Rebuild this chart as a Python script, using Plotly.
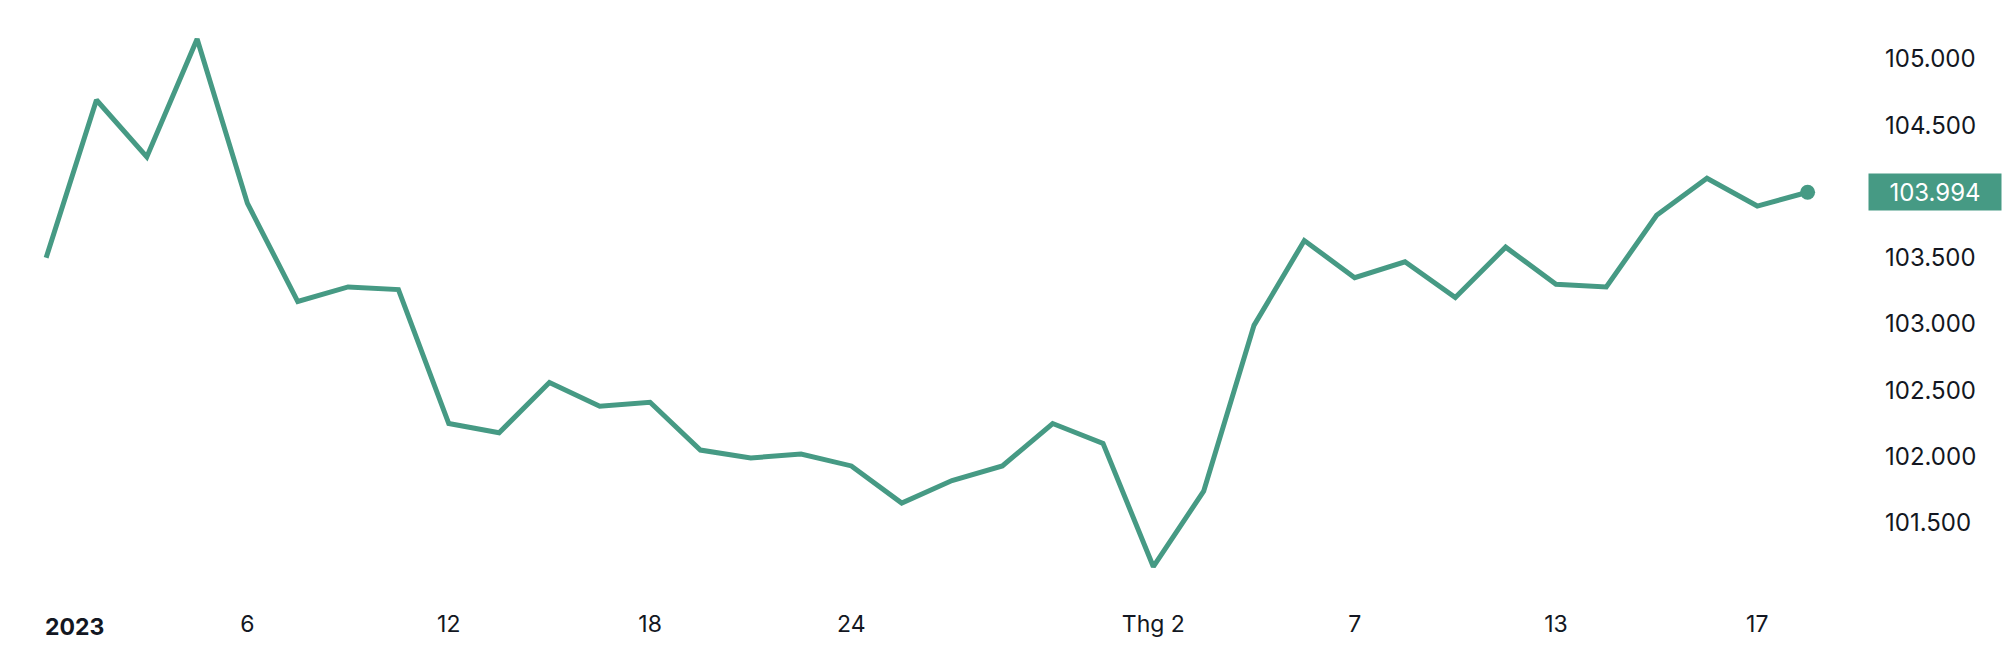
import plotly.graph_objects as go

# trading days (weekends skipped) and closing values
dates = [
    "2023-01-02", "2023-01-03", "2023-01-04", "2023-01-05", "2023-01-06",
    "2023-01-09", "2023-01-10", "2023-01-11", "2023-01-12", "2023-01-13",
    "2023-01-16", "2023-01-17", "2023-01-18", "2023-01-19", "2023-01-20",
    "2023-01-23", "2023-01-24", "2023-01-25", "2023-01-26", "2023-01-27",
    "2023-01-30", "2023-01-31", "2023-02-01", "2023-02-02", "2023-02-03",
    "2023-02-06", "2023-02-07", "2023-02-08", "2023-02-09", "2023-02-10",
    "2023-02-13", "2023-02-14", "2023-02-15", "2023-02-16", "2023-02-17",
    "2023-02-20",
]
values = [
    103.50, 104.69, 104.26, 105.15, 103.91,
    103.17, 103.28, 103.26, 102.25, 102.18,
    102.56, 102.38, 102.41, 102.05, 101.99,
    102.02, 101.93, 101.65, 101.82, 101.93,
    102.25, 102.10, 101.17, 101.74, 102.99,
    103.63, 103.35, 103.47, 103.20, 103.58,
    103.30, 103.28, 103.82, 104.10, 103.89,
    103.994,
]

x_tick_dates = ["2023-01-06", "2023-01-12", "2023-01-18", "2023-01-24",
                "2023-02-01", "2023-02-07", "2023-02-13", "2023-02-17"]
x_tick_text = ["6", "12", "18", "24", "Thg 2", "7", "13", "17"]
year_label = "2023"

# 104.000 is hidden behind the last value tag
y_ticks = [101.5, 102.0, 102.5, 103.0, 103.5, 104.5, 105.0]
y_tick_text = [f"{v:.3f}" for v in y_ticks]

GREEN = "#469a84"
TEXT = "#131722"
FONT = "Inter"

fig = go.Figure()
fig.add_trace(go.Scatter(
    x=dates, y=values, mode="lines",
    line=dict(color=GREEN, width=5),
    hoverinfo="skip",
))
fig.add_trace(go.Scatter(
    x=[dates[-1]], y=[values[-1]], mode="markers",
    marker=dict(color=GREEN, size=15),
    hoverinfo="skip",
))

# last value tag on the price scale
fig.add_annotation(
    x=1, xref="paper", y=values[-1], yref="y",
    xanchor="left", yanchor="middle",
    text=f"{values[-1]:.3f}", showarrow=False,
    font=dict(family=FONT, size=24, color="white"),
    bgcolor=GREEN, width=132, height=36, borderpad=0, align="center",
)
fig.add_shape(type="line", xref="paper", yref="y",
              x0=1, x1=1 + 8 / 1868, y0=values[-1], y1=values[-1],
              line=dict(color="white", width=2))

# year label, pushed right to stay inside the pane
fig.add_annotation(
    x=dates[0], xref="x", y=0, yref="paper",
    xanchor="left", yanchor="middle", xshift=-3, yshift=-27,
    text=f"<b>{year_label}</b>", showarrow=False,
    font=dict(family=FONT, size=23, color=TEXT),
)

fig.update_layout(
    width=2016, height=662,
    margin=dict(l=0, r=148, t=0, b=62),
    paper_bgcolor="white", plot_bgcolor="white",
    showlegend=False,
    font=dict(family=FONT, size=23, color=TEXT),
    xaxis=dict(
        type="date",
        rangebreaks=[dict(bounds=["sat", "mon"])],
        range=["2022-12-30 02:00", "2023-02-21 04:48"],
        tickvals=x_tick_dates, ticktext=x_tick_text,
        showgrid=False, zeroline=False, showline=False, ticks="",
        ticklabelstandoff=8,
    ),
    yaxis=dict(
        side="right",
        range=[100.919, 105.444],
        tickvals=y_ticks, ticktext=y_tick_text,
        tickfont=dict(size=24),
        showgrid=False, zeroline=False, showline=False, ticks="",
        ticklabelstandoff=16,
    ),
)

fig.write_html("out.html", config={"displayModeBar": False},
               post_script="document.body.style.margin = '0';")
